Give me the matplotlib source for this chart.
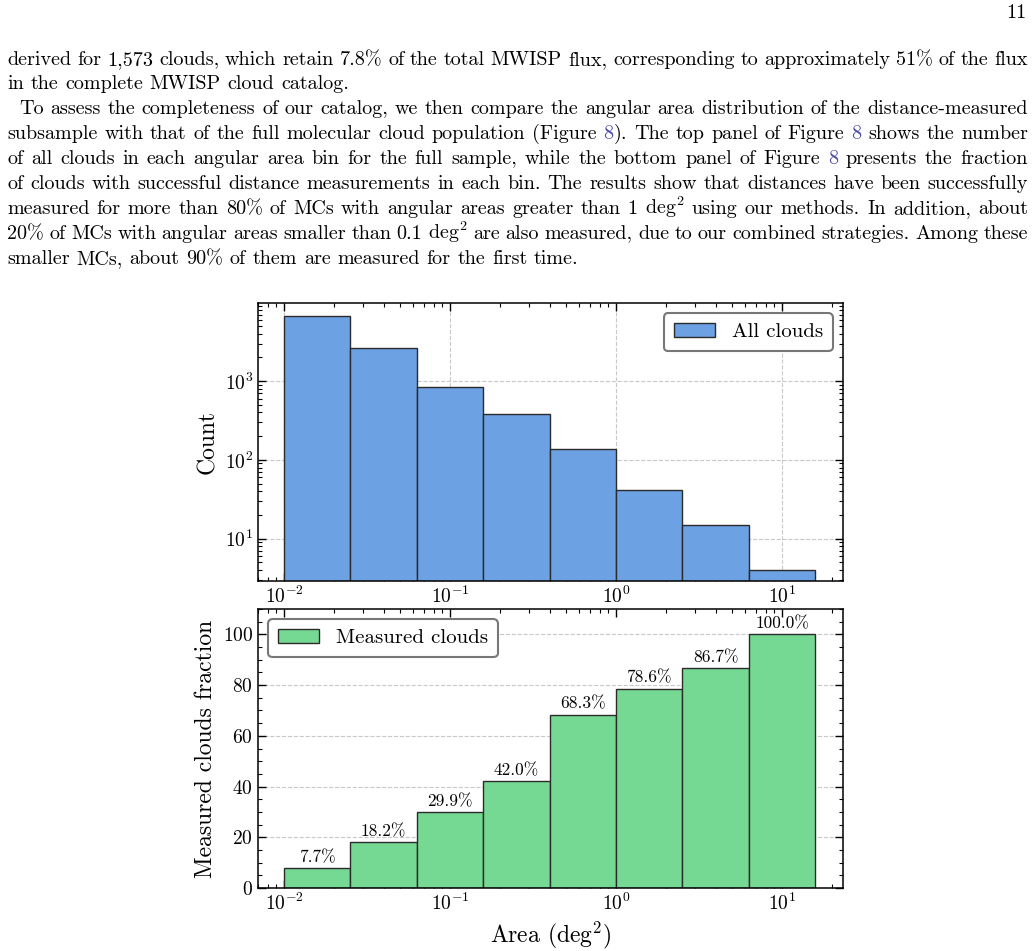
import re
import numpy as np
import matplotlib
matplotlib.use("Agg")
import matplotlib.pyplot as plt

plt.rcParams['font.family'] = ['cmr10', 'DejaVu Serif']
plt.rcParams['mathtext.fontset'] = 'cm'
plt.rcParams['axes.formatter.use_mathtext'] = True
plt.rcParams['axes.unicode_minus'] = False

# bin edges (deg^2) and values
bin_edges = [0.01, 0.0251, 0.0631, 0.158, 0.398, 1.0, 2.51, 6.31, 15.8]
all_counts = [6800, 2650, 840, 377, 138, 41, 15, 4]
measured_frac = [7.7, 18.2, 29.9, 42.0, 68.3, 78.6, 86.7, 100.0]

page_number = "11"
para_lines = [
    "derived for 1,573 clouds, which retain 7.8% of the total MWISP flux, corresponding to approximately 51% of the flux",
    "in the complete MWISP cloud catalog.",
    "To assess the completeness of our catalog, we then compare the angular area distribution of the distance-measured",
    "subsample with that of the full molecular cloud population (Figure {8}). The top panel of Figure {8} shows the number",
    "of all clouds in each angular area bin for the full sample, while the bottom panel of Figure {8} presents the fraction",
    "of clouds with successful distance measurements in each bin. The results show that distances have been successfully",
    "measured for more than 80% of MCs with angular areas greater than 1 deg$^2$ using our methods. In addition, about",
    "20% of MCs with angular areas smaller than 0.1 deg$^2$ are also measured, due to our combined strategies. Among these",
    "smaller MCs, about 90% of them are measured for the first time.",
]
line_justify = [True, False, True, True, True, True, True, True, False]
line_indent = [0, 0, 12, 0, 0, 0, 0, 0, 0]

W, H = 1034, 951
fig = plt.figure(figsize=(W / 100, H / 100), dpi=100)
renderer = fig.canvas.get_renderer()

link_color = '#4a4aa8'
fs_body = 14.5


def text_width(s):
    t = fig.text(0, 0, s, fontsize=fs_body)
    w = t.get_window_extent(renderer).width
    t.remove()
    return w


space_w = text_width('a b') - text_width('ab')


def put_line(line, x0, x1, ybase, justify):
    groups = []
    for w in line.split(' '):
        objs = []
        for part in re.split(r'(\{[^}]*\})', w):
            if not part:
                continue
            c = 'black'
            if part.startswith('{'):
                part, c = part[1:-1], link_color
            objs.append(fig.text(0, 1 - ybase / H, part, fontsize=fs_body,
                                 color=c, va='baseline', ha='left'))
        groups.append(objs)
    widths = [[t.get_window_extent(renderer).width for t in objs] for objs in groups]
    total = sum(sum(w) for w in widths)
    if justify and len(groups) > 1:
        gap = (x1 - x0 - total) / (len(groups) - 1)
    else:
        gap = space_w
    x = x0
    for objs, ws in zip(groups, widths):
        for t, wd in zip(objs, ws):
            t.set_x(x / W)
            x += wd
        x += gap


fig.text(1027 / W, 1 - 18 / H, page_number, fontsize=fs_body, ha='right', va='baseline')
baselines = [65, 89, 114, 139, 164, 189, 214, 239, 264]
for line, yb, jus, ind in zip(para_lines, baselines, line_justify, line_indent):
    put_line(line, 7 + ind, 1028, yb, jus)

# axes
ax1 = fig.add_axes([258 / W, 1 - 581 / H, 585 / W, 278 / H])
ax2 = fig.add_axes([258 / W, 1 - 888 / H, 585 / W, 279 / H])

edges = np.array(bin_edges)
left = edges[:-1]
widths = np.diff(edges)
centers = np.sqrt(edges[:-1] * edges[1:])

blue = '#6ca1e3'
green = '#76d993'
edge_c = '#2b2b2b'

ax1.bar(left, all_counts, width=widths, align='edge', color=blue,
        edgecolor=edge_c, linewidth=1.0, label='All clouds', zorder=2)
ax1.set_xscale('log')
ax1.set_yscale('log')
ax1.set_ylim(2.9, 9.8e3)
ax1.set_ylabel('Count', fontsize=17)
ax1.grid(True, which='major', linestyle='--', color='#c8c8c8', linewidth=0.8, zorder=0)

ax2.bar(left, measured_frac, width=widths, align='edge', color=green,
        edgecolor=edge_c, linewidth=1.0, label='Measured clouds', zorder=2)
ax2.set_xscale('log')
ax2.set_ylim(0, 110)
ax2.set_yticks([0, 20, 40, 60, 80, 100])
ax2.yaxis.set_minor_locator(matplotlib.ticker.AutoMinorLocator(4))
ax2.set_ylabel('Measured clouds fraction', fontsize=17)
ax2.set_xlabel('Area (deg$^2$)', fontsize=17)
ax2.grid(True, which='major', axis='y', linestyle='--', color='#c8c8c8', linewidth=0.8, zorder=0)
for c, v in zip(centers, measured_frac):
    ax2.text(c, v + 1.2, '%.1f%%' % v, ha='center', va='bottom', fontsize=12.5, zorder=3)

for ax in (ax1, ax2):
    ax.set_xlim(10 ** -2.157, 10 ** 1.367)
    ax.set_axisbelow(True)
    ax.tick_params(which='both', direction='in', top=True, right=True, labelsize=14)
    ax.tick_params(which='major', length=6, width=1.0)
    ax.tick_params(which='minor', length=3, width=0.8)
    for s in ax.spines.values():
        s.set_linewidth(1.1)

leg1 = ax1.legend(loc='upper right', fontsize=15, fancybox=True, framealpha=1,
                  handlelength=2.0, borderpad=0.45)
leg1.get_frame().set_edgecolor('#777777')
leg1.get_frame().set_linewidth(1.5)
leg2 = ax2.legend(loc='upper left', fontsize=15, fancybox=True, framealpha=1,
                  handlelength=2.0, borderpad=0.45)
leg2.get_frame().set_edgecolor('#777777')
leg2.get_frame().set_linewidth(1.5)

plt.savefig('out.png', dpi=100)
